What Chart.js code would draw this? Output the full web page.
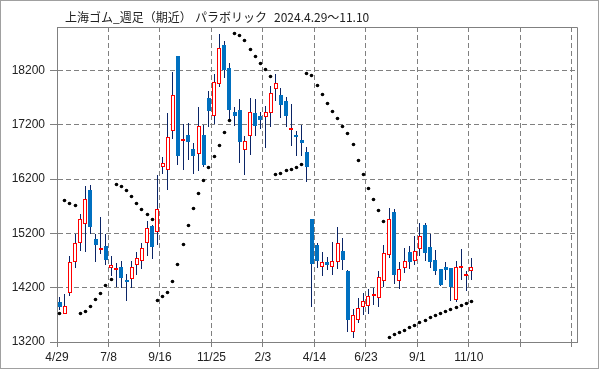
<!DOCTYPE html>
<html lang="ja">
<head>
<meta charset="utf-8">
<title>上海ゴム 週足 パラボリック</title>
<script src="https://cdn.jsdelivr.net/npm/chart.js@4.4.1/dist/chart.umd.min.js"></script>
<style>
  html, body { margin: 0; padding: 0; background: #fff; }
</style>
</head>
<body>
<canvas id="chart" width="599" height="369"></canvas>
<script>
// weekly bars 2024/4/29 .. 2025/11/10, an x label every 10 weeks
const titleParts = ['上海ゴム_週足（期近）', 'パラボリック', '2024.4.29～11.10'];
const tickLabels = ['4/29', '7/8', '9/16', '11/25', '2/3', '4/14', '6/23', '9/1', '11/10', '', ''];
const yTicks = [13200, 14200, 15200, 16200, 17200, 18200];

const opens = [
  13930, 13720, 14100, 14680, 15020, 15380, 15990, 15100, 14900, 14960,
  14570, 14520, 14590, 14340, 14360, 14610, 14700, 15030, 15340, 15220,
  16420, 16360, 17080, 18460, 16900, 17020, 16760, 16660, 17020, 17700,
  17360, 17950, 18670, 18250, 17440, 17480, 16730, 17000, 17420, 17370,
  17340, 17420, 17860, 17750, 17640, 17110, 17020, 16920, 16700, 15460,
  14990, 14590, 14670, 14590, 14670, 14870, 14510, 13390, 13610, 13850,
  13870, 14040, 14010, 14330, 14810, 15590, 14330, 14570, 14860, 14700,
  14920, 15350, 14950, 14710, 14540, 14590, 14560, 13980, 14560, 14410,
  14500
];
const highs = [
  14030, 14090, 14780, 15190, 15560, 16070, 16100, 15180, 15500, 15180,
  14780, 14650, 14700, 14450, 14700, 14860, 15020, 15430, 15360, 16280,
  16600, 17420, 18170, 18470, 17210, 17230, 16870, 17530, 17190, 17830,
  18130, 18880, 18750, 18330, 17530, 17680, 16990, 17690, 17680, 17440,
  17540, 17910, 18130, 17880, 17710, 17580, 17080, 17190, 16790, 15470,
  15030, 14860, 14760, 15050, 15310, 15110, 14520, 13800, 14010, 14100,
  14170, 14190, 14510, 14980, 15660, 15640, 14680, 14930, 14960, 15150,
  15390, 15390, 15190, 14900, 14550, 14670, 14570, 14700, 14910, 14500,
  14750
];
const lows = [
  13790, 13720, 14050, 14570, 14870, 14850, 15190, 14680, 14820, 14620,
  14410, 14220, 14200, 13960, 14200, 14440, 14550, 14780, 14730, 14990,
  16300, 15990, 16930, 16450, 16360, 16560, 16300, 16340, 16420, 17160,
  17210, 17900, 18070, 17250, 17170, 16500, 16270, 16650, 17000, 17130,
  16780, 17160, 17640, 17330, 17160, 16800, 16630, 16620, 16150, 13850,
  14570, 14410, 14520, 14430, 14550, 14520, 13390, 13280, 13550, 13700,
  13710, 13880, 13850, 14220, 14750, 14270, 14180, 14470, 14540, 14620,
  14780, 14700, 14570, 14430, 14230, 14350, 13950, 13930, 14350, 14140,
  14350
];
const closes = [
  13840, 13860, 14680, 15030, 15460, 15830, 15320, 14990, 14940, 14710,
  14620, 14560, 14380, 14310, 14590, 14750, 14930, 15290, 14950, 15640,
  16490, 16980, 17750, 16620, 16920, 16890, 16630, 17180, 16450, 17450,
  17990, 18620, 18200, 17480, 17370, 16890, 16900, 17430, 17170, 17280,
  17430, 17790, 17970, 17560, 17370, 17120, 16970, 16860, 16430, 14640,
  14700, 14670, 14620, 14700, 15020, 14710, 13600, 13690, 13820, 13950,
  14040, 14080, 14390, 14830, 15460, 14440, 14540, 14700, 14670, 14870,
  15160, 14830, 14670, 14510, 14250, 14530, 14220, 14590, 14570, 14450,
  14590
];
// parabolic SAR
const sar = [
  13720, 15810, 15750, 15720, 13720, 13760, 13850, 13990, 14100, 14240,
  14350, 16100, 16060, 15990, 15880, 15750, 15640, 15550, 15450, 13960,
  14030, 14110, 14310, 14630, 15000, 15350, 15660, 15940, 16180, 16420,
  16620, 16810, 17050, 17270, 18880, 18840, 18750, 18590, 18460, 18330,
  18210, 18080, 16280, 16310, 16350, 16380, 16420, 16460, 18140, 18100,
  17930, 17760, 17600, 17450, 17310, 17170, 17040, 16830, 16550, 16280,
  16030, 15830, 15630, 15420, 13280, 13340, 13380, 13420, 13470, 13510,
  13560, 13590, 13650, 13690, 13720, 13770, 13800, 13840, 13870, 13910,
  13950
];

const UP_EDGE = '#ff0000';
const DOWN = '#0070c0';
const WICK = '#0a2466';
const GRID = '#808080';

const isUp = i => closes[i] >= opens[i];
const wickData = opens.map((_, i) => ({ x: i + 0.5, y: [lows[i], highs[i]] }));
const bodyData = opens.map((o, i) => ({ x: i + 0.5, y: [Math.min(o, closes[i]), Math.max(o, closes[i])] }));
const sarData = sar.map((v, i) => ({ x: i + 0.5, y: v }));

// keep candles on whole pixels so the 1px wicks and red edges stay sharp
const snapPlugin = {
  id: 'snap',
  beforeDatasetsDraw(chart) {
    chart.getSortedVisibleDatasetMetas().forEach(meta => {
      meta.data.forEach(el => {
        if (meta.type === 'bar') {
          el.x = el.width % 2 ? Math.floor(el.x) + 0.5 : Math.round(el.x);
          el.y = Math.round(el.y);
          el.base = Math.round(el.base);
        } else {
          el.x = Math.floor(el.x) + 0.5;
          el.y = Math.floor(el.y) + 0.5;
        }
      });
    });
  }
};

// outer frame, top/right plot border and title
const framePlugin = {
  id: 'frame',
  afterDraw(chart) {
    const { ctx, chartArea: a } = chart;
    ctx.save();
    ctx.lineWidth = 1;
    ctx.strokeStyle = GRID;
    ctx.beginPath();
    ctx.moveTo(a.left, a.top + 0.5);
    ctx.lineTo(a.right + 0.5, a.top + 0.5);
    ctx.lineTo(a.right + 0.5, a.bottom);
    ctx.stroke();
    ctx.strokeStyle = '#a0a0a0';
    ctx.strokeRect(0.5, 0.5, chart.width - 1, chart.height - 1);
    ctx.fillStyle = '#222';
    ctx.font = '12px "Noto Sans CJK JP"';
    ctx.textBaseline = 'middle';
    [65, 195, 274].forEach((x, k) => ctx.fillText(titleParts[k], x, 17));
    ctx.restore();
  }
};

Chart.defaults.font.family = '"Liberation Sans", Arial, sans-serif';
Chart.defaults.font.size = 12;
Chart.defaults.color = '#222';

new Chart(document.getElementById('chart'), {
  type: 'bar',
  data: {
    datasets: [
      {
        type: 'line',
        data: sarData,
        showLine: false,
        pointRadius: 1.8,
        pointBackgroundColor: '#000',
        pointBorderWidth: 0,
        order: 0
      },
      {
        data: bodyData,
        grouped: false,
        barThickness: 4,
        minBarLength: 2,
        borderWidth: 1,
        borderSkipped: false,
        inflateAmount: 0,
        backgroundColor: ctx => isUp(ctx.dataIndex) ? '#fff' : DOWN,
        borderColor: ctx => isUp(ctx.dataIndex) ? UP_EDGE : DOWN,
        order: 1
      },
      {
        data: wickData,
        grouped: false,
        barThickness: 1,
        inflateAmount: 0,
        backgroundColor: WICK,
        order: 2
      }
    ]
  },
  options: {
    responsive: false,
    devicePixelRatio: 1,
    animation: false,
    events: [],
    layout: { padding: { left: 0, top: 27, right: 22, bottom: 0 } },
    plugins: {
      legend: { display: false },
      tooltip: { enabled: false }
    },
    scales: {
      x: {
        type: 'linear',
        min: 0,
        max: 101,
        offset: false,
        grid: { offset: false, color: GRID, tickLength: 5 },
        border: { color: GRID, dash: [5, 3] },
        afterBuildTicks: axis => {
          axis.ticks = tickLabels.map((_, k) => ({ value: k * 10 }));
        },
        afterFit: axis => { axis.height = 27; },
        ticks: {
          autoSkip: false,
          maxRotation: 0,
          padding: 3,
          callback: v => tickLabels[Math.round(v / 10)]
        }
      },
      y: {
        min: 13200,
        max: 19000,
        grid: { color: GRID, tickLength: 7 },
        border: { color: GRID, dash: [5, 3] },
        afterBuildTicks: axis => {
          axis.ticks = yTicks.map(v => ({ value: v }));
        },
        afterFit: axis => { axis.width = 57; },
        ticks: {
          padding: 5,
          callback: v => String(v)
        }
      }
    }
  },
  plugins: [snapPlugin, framePlugin]
});
</script>
</body>
</html>
